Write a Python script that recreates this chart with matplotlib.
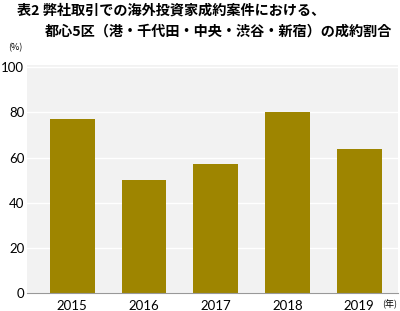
import matplotlib
matplotlib.use('Agg')
import matplotlib.pyplot as plt

years = ['2015', '2016', '2017', '2018', '2019']
ratio = [77, 50, 57, 80, 64]
yticks = [0, 20, 40, 60, 80, 100]

plt.rcParams['font.family'] = ['Noto Sans CJK JP', 'DejaVu Sans']

fig = plt.figure(figsize=(4, 3.11), dpi=100)
ax = fig.add_axes([0.0675, 0.058, 0.9275, 0.733])
ax.set_facecolor('#f2f2f2')

x = range(len(years))
ax.bar(x, ratio, width=0.625, color='#9e8500', zorder=2)

ax.set_xlim(-0.63, 4.54)
ax.set_ylim(0, 101)
ax.set_yticks(yticks)
ax.set_xticks(list(x))
ax.set_xticklabels(years)
ax.grid(axis='y', color='white', lw=1, zorder=1)

for s in ['top', 'right', 'left']:
    ax.spines[s].set_visible(False)
ax.spines['bottom'].set_color('#999999')
ax.tick_params(length=0, labelsize=9.5, pad=5)
ax.tick_params(axis='y', pad=2)
for lab in ax.get_xticklabels() + ax.get_yticklabels():
    lab.set_family(['Lato', 'DejaVu Sans'])

fig.text(0.042, 0.965, '表2 弊社取引での海外投資家成約案件における、', fontsize=10.2,
         fontweight='bold', va='center', ha='left')
fig.text(0.112, 0.9, '都心5区（港・千代田・中央・渋谷・新宿）の成約割合', fontsize=10.2,
         fontweight='bold', va='center', ha='left')
fig.text(0.02, 0.848, '(%)', fontsize=6.5, va='center', ha='left')
fig.text(0.955, 0.02, '(年)', fontsize=6.5, va='center', ha='left')

fig.savefig('out.png', dpi=100)
